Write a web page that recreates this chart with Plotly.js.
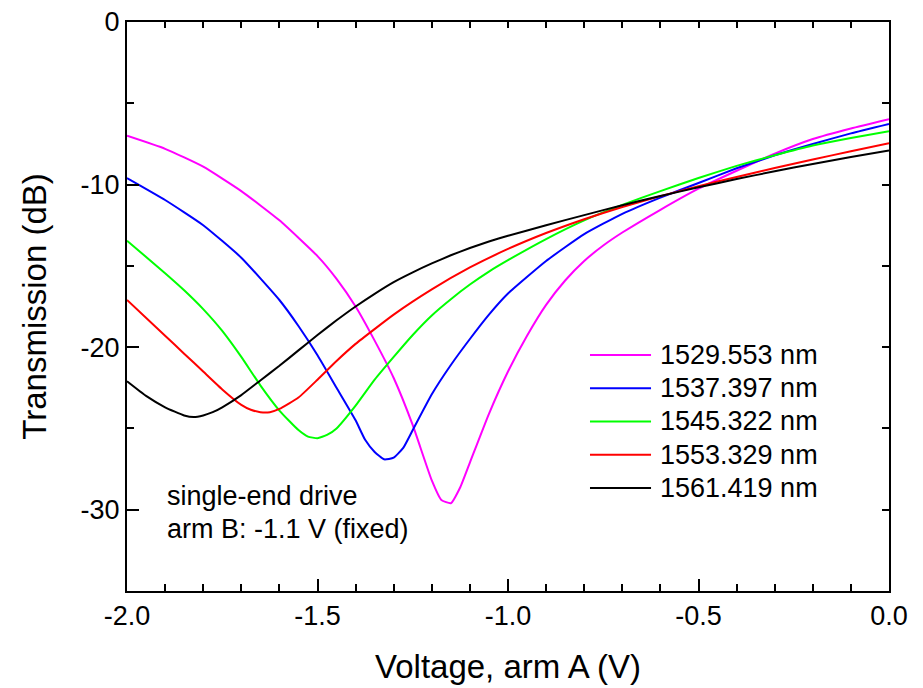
<!DOCTYPE html>
<html>
<head>
<meta charset="utf-8">
<script src="https://cdn.plot.ly/plotly-3.0.1.min.js"></script>
<style>html,body{margin:0;padding:0;background:#fff;}#chart{width:923px;height:688px;}</style>
</head>
<body>
<div id="chart"></div>
<script>
// ---- data ----
const seriesNames = ['1529.553 nm', '1537.397 nm', '1545.322 nm', '1553.329 nm', '1561.419 nm'];
const seriesColors = ['#ff00ff', '#0000ff', '#00ff00', '#ff0000', '#000000'];

const v1529 = [-2.0,-1.9,-1.8,-1.7,-1.6,-1.5,-1.45,-1.4,-1.35,-1.3,-1.25,-1.2,-1.175,-1.15,-1.125,-1.1,-1.05,-1.0,-0.95,-0.9,-0.85,-0.8,-0.75,-0.7,-0.6,-0.5,-0.4,-0.3,-0.2,-0.1,0.0];
const t1529 = [-7.0,-7.8,-8.9,-10.4,-12.2,-14.4,-15.8,-17.5,-19.6,-21.9,-24.8,-28.2,-29.4,-29.6,-28.6,-27.1,-24.1,-21.5,-19.3,-17.4,-15.9,-14.7,-13.75,-12.95,-11.55,-10.25,-9.15,-8.1,-7.2,-6.55,-5.98];

const v1537 = [-2.0,-1.9,-1.8,-1.7,-1.6,-1.55,-1.5,-1.45,-1.4,-1.375,-1.35,-1.325,-1.3,-1.275,-1.25,-1.2,-1.15,-1.1,-1.05,-1.0,-0.9,-0.8,-0.7,-0.6,-0.5,-0.4,-0.3,-0.2,-0.1,0.0];
const t1537 = [-9.6,-10.95,-12.5,-14.5,-17.1,-18.7,-20.5,-22.5,-24.5,-25.7,-26.45,-26.9,-26.8,-26.2,-25.1,-22.9,-21.1,-19.5,-18.0,-16.7,-14.7,-13.05,-11.8,-10.8,-9.9,-9.0,-8.2,-7.5,-6.85,-6.27];

const v1545 = [-2.0,-1.9,-1.85,-1.8,-1.75,-1.7,-1.65,-1.6,-1.55,-1.525,-1.5,-1.475,-1.45,-1.4,-1.35,-1.3,-1.25,-1.2,-1.15,-1.1,-1.05,-1.0,-0.9,-0.8,-0.7,-0.6,-0.5,-0.4,-0.3,-0.2,-0.1,0.0];
const t1545 = [-13.45,-15.45,-16.5,-17.66,-19.0,-20.6,-22.35,-23.9,-25.1,-25.5,-25.6,-25.4,-25.0,-23.6,-22.0,-20.6,-19.25,-18.05,-17.05,-16.15,-15.35,-14.65,-13.35,-12.2,-11.25,-10.4,-9.6,-8.85,-8.2,-7.6,-7.13,-6.72];

const v1553 = [-2.0,-1.9,-1.85,-1.8,-1.75,-1.7,-1.675,-1.65,-1.625,-1.6,-1.55,-1.5,-1.45,-1.4,-1.3,-1.2,-1.1,-1.0,-0.9,-0.8,-0.7,-0.6,-0.5,-0.4,-0.3,-0.2,-0.1,0.0];
const t1553 = [-17.1,-19.3,-20.4,-21.5,-22.6,-23.55,-23.85,-24.0,-24.0,-23.8,-23.1,-22.0,-20.85,-19.8,-18.0,-16.45,-15.1,-13.96,-12.98,-12.13,-11.38,-10.71,-10.1,-9.53,-8.98,-8.46,-7.95,-7.45];

const v1561 = [-2.0,-1.95,-1.9,-1.85,-1.825,-1.8,-1.775,-1.75,-1.7,-1.65,-1.6,-1.55,-1.5,-1.45,-1.4,-1.35,-1.3,-1.25,-1.2,-1.15,-1.1,-1.05,-1.0,-0.9,-0.8,-0.7,-0.6,-0.5,-0.4,-0.3,-0.2,-0.1,0.0];
const t1561 = [-22.1,-23.0,-23.7,-24.2,-24.3,-24.2,-24.0,-23.7,-22.95,-22.05,-21.15,-20.2,-19.25,-18.35,-17.5,-16.72,-16.0,-15.4,-14.85,-14.35,-13.9,-13.5,-13.15,-12.5,-11.88,-11.27,-10.7,-10.17,-9.66,-9.18,-8.73,-8.3,-7.91];

const xTickVals = [-2.0, -1.5, -1.0, -0.5, 0.0];
const xTickText = ['-2.0', '-1.5', '-1.0', '-0.5', '0.0'];
const yTickVals = [0, -10, -20, -30];
const yTickText = ['0', '-10', '-20', '-30'];

const noteLines = ['single-end drive', 'arm B: -1.1 V (fixed)'];
const xTitle = 'Voltage, arm A (V)';
const yTitle = 'Transmission (dB)';

// ---- build ----
const xs = [v1529, v1537, v1545, v1553, v1561];
const ys = [t1529, t1537, t1545, t1553, t1561];
const FONT = 'Liberation Sans, Arial, Helvetica, sans-serif';

const traces = xs.map((x, i) => ({
  x: x, y: ys[i], name: seriesNames[i], type: 'scatter', mode: 'lines',
  line: {color: seriesColors[i], width: 2, shape: 'spline', smoothing: 0.45},
  showlegend: false, hoverinfo: 'x+y+name'
}));
traces.push({x: [null], y: [null], xaxis: 'x2', yaxis: 'y2', showlegend: false, hoverinfo: 'skip', mode: 'lines'});

// custom legend (paper coordinates)
const legRow0 = 0.4148, legStep = 0.05844, legX0 = 0.6076, legX1 = 0.6877, legTextX = 0.697;
const shapes = seriesNames.map((n, i) => ({
  type: 'line', xref: 'paper', yref: 'paper',
  x0: legX0, x1: legX1, y0: legRow0 - i * legStep, y1: legRow0 - i * legStep,
  line: {color: seriesColors[i], width: 2}
}));
const annotations = seriesNames.map((n, i) => ({
  xref: 'paper', yref: 'paper', x: legTextX, y: legRow0 - i * legStep,
  xanchor: 'left', yanchor: 'middle', text: n, showarrow: false,
  font: {family: FONT, size: 27, color: '#000'}
}));
const noteY = [0.167, 0.109];
noteLines.forEach((t, i) => annotations.push({
  xref: 'paper', yref: 'paper', x: 0.0499, y: noteY[i], xanchor: 'left', yanchor: 'middle',
  text: t, showarrow: false, font: {family: FONT, size: 27, color: '#000'}
}));

const common = {showgrid: false, zeroline: false, showline: true, linecolor: '#000', linewidth: 2,
  ticks: 'inside', tickcolor: '#000', tickwidth: 2};

const layout = {
  width: 923, height: 688,
  margin: {l: 127, r: 34, t: 22, b: 97, pad: 0},
  paper_bgcolor: '#fff', plot_bgcolor: '#fff',
  font: {family: FONT, color: '#000', size: 27},
  xaxis: Object.assign({}, common, {
    range: [-2, 0], tickmode: 'array', tickvals: xTickVals, ticktext: xTickText, ticklen: 12,
    tickfont: {family: FONT, size: 27, color: '#000'},
    minor: {dtick: 0.1, tick0: 0, ticks: 'inside', ticklen: 7, tickwidth: 2, tickcolor: '#000', showgrid: false},
    title: {text: xTitle, font: {family: FONT, size: 33, color: '#000'}, standoff: 24}
  }),
  yaxis: Object.assign({}, common, {
    range: [-35, 0], tickmode: 'array', tickvals: yTickVals, ticktext: yTickText, ticklen: 12,
    tickfont: {family: FONT, size: 27, color: '#000'},
    minor: {dtick: 5, tick0: 0, ticks: 'inside', ticklen: 7, tickwidth: 2, tickcolor: '#000', showgrid: false},
    title: {text: yTitle, font: {family: FONT, size: 33, color: '#000'}, standoff: 24}
  }),
  xaxis2: Object.assign({}, common, {
    overlaying: 'x', side: 'top', anchor: 'y', range: [-2, 0], tickmode: 'linear', tick0: -2, dtick: 0.1,
    ticklen: 6, showticklabels: false
  }),
  yaxis2: Object.assign({}, common, {
    overlaying: 'y', side: 'right', anchor: 'x', range: [-35, 0], tickmode: 'linear', tick0: 0, dtick: 5,
    ticklen: 7, showticklabels: false
  }),
  shapes: shapes,
  annotations: annotations,
  showlegend: false
};

Plotly.newPlot('chart', traces, layout, {displayModeBar: false, staticPlot: true});
</script>
</body>
</html>
